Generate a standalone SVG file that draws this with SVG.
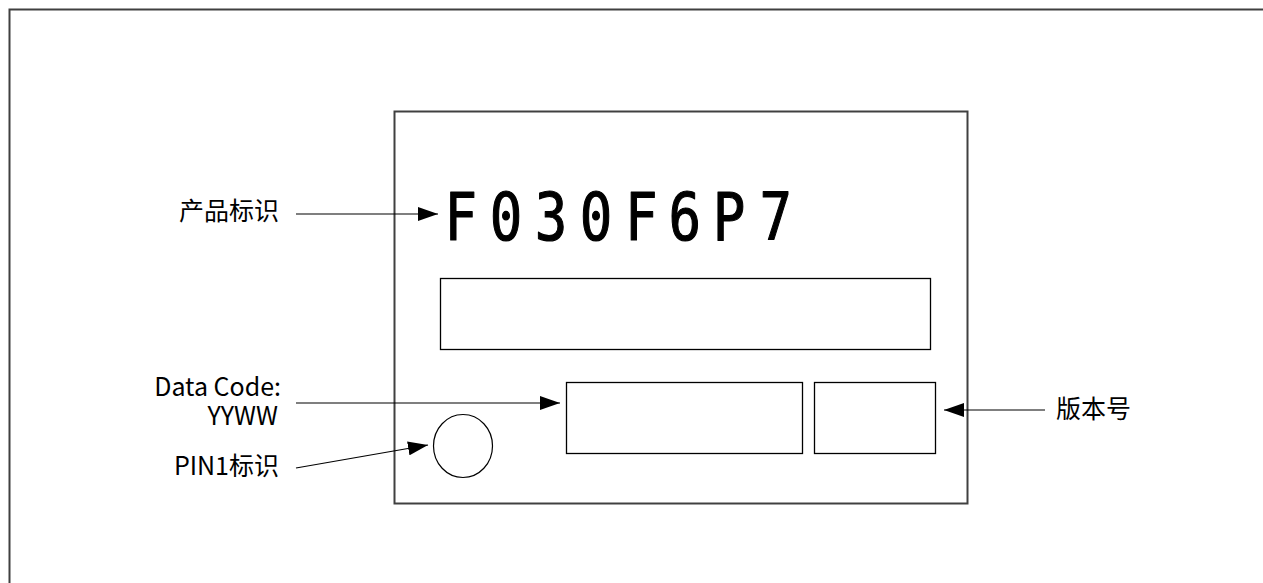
<svg xmlns="http://www.w3.org/2000/svg" width="1263" height="583" viewBox="0 0 1263 583">
<style>
.frame{fill:none;stroke:#404040;stroke-width:2}
.box{fill:#fff;stroke:#000;stroke-width:1.3}
.lbl{font-family:"Noto Sans CJK SC","Noto Sans",sans-serif;font-size:25px;fill:#000}
.mark{font-family:"DejaVu Sans Mono","Liberation Mono",monospace;font-size:66px;fill:#000;stroke:#000;stroke-width:1.2;stroke-linejoin:round}
.conn{stroke:#000;stroke-width:1.2;fill:none}
</style>
<defs>
<marker id="ah" markerUnits="userSpaceOnUse" markerWidth="22" markerHeight="14" refX="20" refY="7" orient="auto">
<path d="M0,0 L20,7 L0,14 Z" fill="#000"/>
</marker>
</defs>
<rect width="1263" height="583" fill="#fff"/>
<rect class="frame" x="9.5" y="9.5" width="1300" height="620"/>
<g id="chip">
<rect class="frame" x="394.5" y="111.5" width="573" height="392"/>
</g>
<g id="product-mark">
<text class="mark" transform="scale(0.82 1)" text-anchor="middle" y="240.5" x="562 617 672 727 782 835 889 946">F030F6P7</text>
</g>
<g id="lot-box"><rect class="box" x="440.5" y="278.5" width="490" height="71"/></g>
<g id="date-box"><rect class="box" x="566.5" y="382.5" width="236" height="71"/></g>
<g id="version-box"><rect class="box" x="814.5" y="382.5" width="121" height="71"/></g>
<g id="pin1-dot"><ellipse cx="463" cy="446" rx="29.5" ry="31.5" fill="#fff" stroke="#000" stroke-width="1.2"/></g>
<g id="label-product"><text class="lbl" x="279" y="220" text-anchor="end">产品标识</text></g>
<g id="label-date"><text class="lbl" text-anchor="end"><tspan x="281" y="396">Data Code:</tspan><tspan x="278" y="425">YYWW</tspan></text></g>
<g id="label-pin1"><text class="lbl" x="279" y="475" text-anchor="end">PIN1标识</text></g>
<g id="label-version"><text class="lbl" x="1056" y="418">版本号</text></g>
<g id="connectors">
<line class="conn" x1="296" y1="214" x2="438" y2="214" marker-end="url(#ah)"/>
<line class="conn" x1="296" y1="403" x2="560" y2="403" marker-end="url(#ah)"/>
<line class="conn" x1="296" y1="468" x2="428" y2="445" marker-end="url(#ah)"/>
<line class="conn" x1="1045" y1="410" x2="944" y2="410" marker-end="url(#ah)"/>
</g>
</svg>
